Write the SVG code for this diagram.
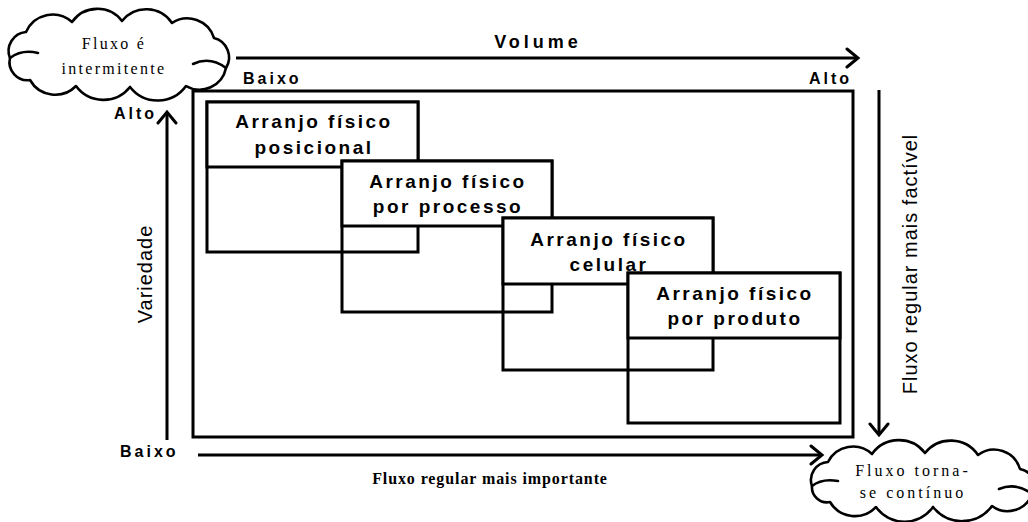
<svg xmlns="http://www.w3.org/2000/svg" width="1028" height="522" viewBox="0 0 1028 522">
<style>
.ln{fill:none;stroke:#000;stroke-width:3}
.hd{fill:#fff;stroke:#000;stroke-width:3}
.cl{fill:#fff;stroke:#000;stroke-width:2.6;stroke-linejoin:round}
.curl{fill:none;stroke:#000;stroke-width:2.6;stroke-linecap:round}
.bx{font-family:"Liberation Sans",Arial,sans-serif;font-weight:bold;font-size:19px;letter-spacing:2.5px;text-anchor:middle;fill:#000}
.ax{font-family:"Liberation Sans",Arial,sans-serif;font-weight:bold;font-size:16px;letter-spacing:3px;fill:#000}
.vt{font-family:"Liberation Sans",Arial,sans-serif;font-size:20px;letter-spacing:1px;text-anchor:middle;fill:#000}
.cs{font-family:"Liberation Serif","Times New Roman",serif;font-size:16px;letter-spacing:2.3px;text-anchor:middle;fill:#000}
.bt{font-family:"Liberation Serif","Times New Roman",serif;font-weight:bold;font-size:16px;letter-spacing:0.9px;text-anchor:middle;fill:#000}
</style>
<defs>
<marker id="ah" markerUnits="userSpaceOnUse" markerWidth="16" markerHeight="22" refX="13" refY="11" orient="auto" viewBox="0 0 16 22">
<path d="M2,2 L13,11 L2,20" fill="none" stroke="#000" stroke-width="3" stroke-linecap="round"/>
</marker>
</defs>
<rect width="1028" height="522" fill="#fff"/>

<g id="frame">
<rect class="ln" x="193" y="91" width="660" height="346"/>
</g>

<g id="connectors">
<path class="ln" d="M236,58 H858" marker-end="url(#ah)"/>
<path class="ln" d="M167,440 V112" marker-end="url(#ah)"/>
<path class="ln" d="M198,455 H822" marker-end="url(#ah)"/>
<path class="ln" d="M879,90 V435" marker-end="url(#ah)"/>
</g>

<g id="box-posicional">
<rect class="ln" x="207" y="102" width="211" height="150"/>
<rect class="hd" x="207" y="102" width="211" height="65"/>
<text class="bx" x="314" y="128">Arranjo físico</text>
<text class="bx" x="314" y="154">posicional</text>
</g>

<g id="box-processo">
<rect class="ln" x="342" y="161" width="210" height="151"/>
<rect class="hd" x="342" y="161" width="210" height="65"/>
<text class="bx" x="448" y="188">Arranjo físico</text>
<text class="bx" x="448" y="213">por processo</text>
</g>

<g id="box-celular">
<rect class="ln" x="503" y="218" width="210" height="152"/>
<rect class="hd" x="503" y="218" width="210" height="66"/>
<text class="bx" x="609" y="246">Arranjo físico</text>
<text class="bx" x="609" y="271">celular</text>
</g>

<g id="box-produto">
<rect class="ln" x="628" y="273" width="212" height="150"/>
<rect class="hd" x="628" y="273" width="212" height="65"/>
<text class="bx" x="735" y="300">Arranjo físico</text>
<text class="bx" x="735" y="325">por produto</text>
</g>

<g id="cloud-intermitente">
<path class="cl" d="M10,58 A19,19 0 0 1 26,32 A29,29 0 0 1 72,22 A31,31 0 0 1 122,21 A31,31 0 0 1 172,23 A28,28 0 0 1 214,38 A20,20 0 0 1 226,68 A27,27 0 0 1 186,86 A35,35 0 0 1 130,87 A34,34 0 0 1 76,86 A29,29 0 0 1 30,80 A18,18 0 0 1 10,58 Z"/>
<path class="curl" d="M10,58 Q22,49 38,53"/>
<path class="curl" d="M193,64 Q210,56 226,68"/>
<text class="cs" x="114" y="49">Fluxo é</text>
<text class="cs" x="114" y="74">intermitente</text>
</g>

<g id="cloud-continuo">
<path class="cl" d="M812,486 A18,18 0 0 1 828,462 A28,28 0 0 1 872,454 A33,33 0 0 1 925,453 A33,33 0 0 1 978,455 A27,27 0 0 1 1020,469 A17,17 0 0 1 1032,494 A26,26 0 0 1 992,506 A37,37 0 0 1 933,507 A35,35 0 0 1 876,507 A29,29 0 0 1 830,502 A15,15 0 0 1 812,486 Z"/>
<path class="curl" d="M812,486 Q822,478 838,481"/>
<path class="curl" d="M999,489 Q1016,482 1032,494"/>
<text class="cs" x="913" y="476" style="letter-spacing:3px">Fluxo torna-</text>
<text class="cs" x="913" y="498" style="letter-spacing:3px">se contínuo</text>
</g>

<g id="labels">
<text class="ax" x="538" y="48" style="font-size:18px;letter-spacing:4px;text-anchor:middle">Volume</text>
<text class="ax" x="243" y="84">Baixo</text>
<text class="ax" x="809" y="84">Alto</text>
<text class="ax" x="114" y="119">Alto</text>
<text class="ax" x="120" y="457">Baixo</text>
<text class="vt" transform="translate(152,274) rotate(-90)">Variedade</text>
<text class="vt" transform="translate(917,264) rotate(-90)">Fluxo regular mais factível</text>
<text class="bt" x="490" y="484">Fluxo regular mais importante</text>
</g>
</svg>
